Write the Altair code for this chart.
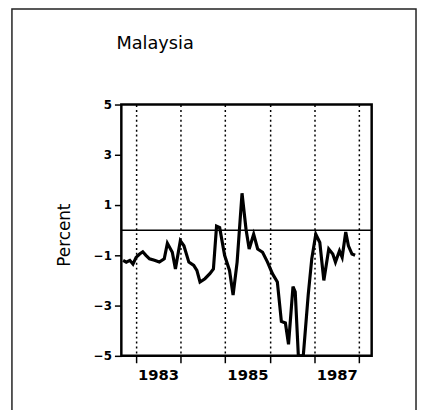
import altair as alt
import pandas as pd

# Decimal year and percent
years = [1982.72, 1982.79, 1982.87, 1982.94, 1983.01, 1983.09, 1983.16, 1983.23,
         1983.31, 1983.42, 1983.53, 1983.64, 1983.71, 1983.82, 1983.89, 1984.00,
         1984.08, 1984.19, 1984.30, 1984.37, 1984.44, 1984.55, 1984.66, 1984.74,
         1984.81, 1984.88, 1984.99, 1985.10, 1985.18, 1985.27, 1985.38, 1985.47,
         1985.54, 1985.64, 1985.73, 1985.84, 1985.95, 1986.06, 1986.17, 1986.26,
         1986.35, 1986.42, 1986.52, 1986.57, 1986.64, 1986.75, 1986.86, 1986.94,
         1987.03, 1987.12, 1987.21, 1987.32, 1987.41, 1987.47, 1987.56, 1987.62,
         1987.70, 1987.76, 1987.84, 1987.91]
percent = [-1.20, -1.27, -1.20, -1.35, -1.08, -0.95, -0.86, -1.00,
           -1.14, -1.20, -1.27, -1.14, -0.52, -0.88, -1.54, -0.42,
           -0.62, -1.27, -1.40, -1.60, -2.06, -1.93, -1.73, -1.54,
           0.16, 0.10, -1.00, -1.60, -2.58, -1.27, 1.47, 0.03,
           -0.75, -0.16, -0.75, -0.88, -1.27, -1.73, -2.06, -3.63,
           -3.69, -4.54, -2.25, -2.45, -5.00, -5.00, -2.58, -1.14,
           -0.16, -0.49, -2.00, -0.75, -0.95, -1.27, -0.82, -1.08,
           -0.07, -0.62, -0.95, -1.00]

x_ticks = [1983, 1984, 1985, 1986, 1987, 1988]
y_ticks = [-5, -3, -1, 1, 3, 5]
x_domain = [1982.68, 1988.28]
y_domain = [-5, 5]
title_text = ["Malaysia"]

df = pd.DataFrame({"year": years, "pct": percent})
zero_df = pd.DataFrame({"y": [0]})
title_df = pd.DataFrame({"t": title_text})

FONT = "DejaVu Sans"

x_enc = alt.X(
    "year:Q",
    scale=alt.Scale(domain=x_domain, nice=False, zero=False),
    axis=alt.Axis(
        values=x_ticks, title=None, domain=False,
        grid=True, gridColor="black", gridDash=[2, 3], gridWidth=1.5, gridOpacity=1,
        ticks=True, tickColor="black", tickSize=7, tickWidth=1.5,
        labelExpr="(datum.value % 2 == 1 && datum.value < 1988) ? format(datum.value, 'd') : ''",
        labelOffset=22.7, labelPadding=5, labelFont=FONT, labelFontSize=15,
        labelColor="black", labelFontWeight="bold",
    ),
)
y_enc = alt.Y(
    "pct:Q",
    scale=alt.Scale(domain=y_domain, nice=False),
    axis=alt.Axis(
        values=y_ticks, title="Percent", domain=False, grid=False,
        ticks=True, tickColor="black", tickSize=7, tickWidth=1.5,
        labelPadding=3, labelFont=FONT, labelFontSize=12, labelColor="black",
        labelFontWeight="bold",
        titleFont=FONT, titleFontSize=17, titleFontWeight="normal", titleColor="black",
        titleX=-58, titleY=132, titleAngle=-90, titleAlign="center", titleBaseline="middle",
    ),
)

line = alt.Chart(df).mark_line(color="black", strokeWidth=3.2, clip=True).encode(x=x_enc, y=y_enc)

zero = alt.Chart(zero_df).mark_rule(color="black", strokeWidth=1.5).encode(y="y:Q")

frame = alt.Chart(zero_df).mark_rect(
    fill=None, stroke="#222222", strokeWidth=1.5, clip=False
).encode(
    x=alt.value(-111), x2=alt.value(299), y=alt.value(-97), y2=alt.value(320)
)

title = alt.Chart(title_df).mark_text(
    font=FONT, fontSize=18, color="black", align="left", baseline="alphabetic", clip=False
).encode(text="t:N", x=alt.value(-5), y=alt.value(-56))

chart = alt.layer(line, zero, frame, title).properties(
    width=254, height=255,
    autosize=alt.AutoSizeParams(type="none"),
    padding={"left": 115, "top": 95, "right": 46, "bottom": 52},
).configure(background="white").configure_view(stroke="black", strokeWidth=2.5)

chart.save("out.html", embed_options={"renderer": "svg", "actions": False})
